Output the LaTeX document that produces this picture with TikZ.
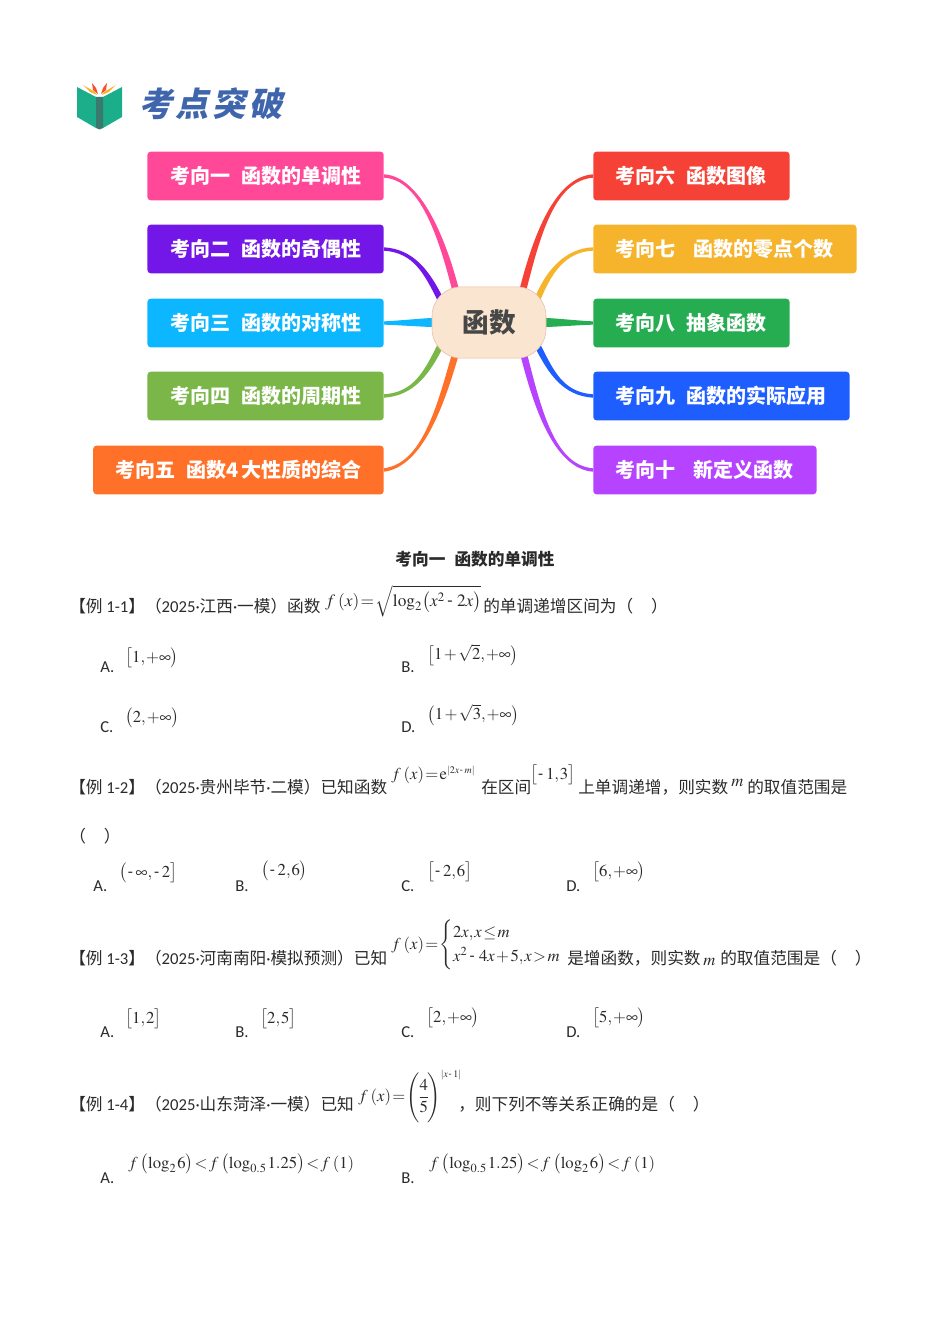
\documentclass[tikz,border=0pt]{standalone}
\usepackage{amsmath,amssymb}
\usepackage{mathptmx}
\usepackage[no-math]{fontspec}
\usepackage{tikz}
\usetikzlibrary{calc,backgrounds}
\setmainfont{Carlito}
\newfontfamily\cjk{Noto Sans CJK SC}
\newfontfamily\boxfont{Noto Sans CJK SC}[WordSpace=2.4]
\newfontfamily\titlefont{Noto Sans CJK SC}[FakeSlant=0.2,LetterSpace=10]
\newcommand{\zh}[1]{{\cjk #1}}
\newcommand{\hy}{\mathbin{\mkern1mu\text{-}\mkern3mu}}
\newcommand{\fx}[1]{f\mkern3mu(#1)}
\thinmuskip=1mu
\medmuskip=1.5mu
\thickmuskip=1.5mu
\newcommand{\limb}[6]{%
	\fill[#1] ($(#2)+(0,-1.7)$) .. controls +(#4) and +(#5) .. ($(hub.center)+(#3)+(#6)$)
		-- ($(hub.center)+(#3)-(#6)$) .. controls +(#5) and +(#4) .. ($(#2)+(0,1.7)$) -- cycle;}
\definecolor{kpink}{HTML}{FF4898}
\definecolor{kpurple}{HTML}{7316E8}
\definecolor{kcyan}{HTML}{0DB7FF}
\definecolor{kolive}{HTML}{7AB648}
\definecolor{korange}{HTML}{FF7028}
\definecolor{kred}{HTML}{F64236}
\definecolor{kgold}{HTML}{F6B32C}
\definecolor{kgreen}{HTML}{26AD51}
\definecolor{kblue}{HTML}{1E5EFF}
\definecolor{kviolet}{HTML}{B543FF}
\definecolor{bookgreen}{HTML}{1AAE8A}
\definecolor{bookspine}{HTML}{39796E}
\definecolor{titleblue}{HTML}{3F66AD}
\definecolor{hubfill}{HTML}{FAE6D0}
\definecolor{bodyink}{HTML}{2A2A2A}

\begin{document}
\begin{tikzpicture}[x=0.75pt,y=-0.75pt]
	\tikzstyle{topic}=[rectangle,rounded corners=2.5pt,text=white,inner xsep=17pt,minimum height=36.5pt,font=\boxfont\fontsize{15}{18}\selectfont\bfseries]
	\tikzstyle{lefttopic}=[topic,anchor=east]
	\tikzstyle{righttopic}=[topic,anchor=west]
	\tikzstyle{line}=[anchor=base west,inner sep=0pt,text=bodyink,font=\fontsize{12.5}{15}\selectfont]
	\tikzstyle{fml}=[anchor=west,inner sep=0pt,xshift=-1.5pt,text=bodyink,font=\fontsize{12.5}{15}\selectfont]

	\useasboundingbox (0,0) rectangle (950,1344);

	% book
	\fill[bookgreen] (77,87) -- (96,97) -- (96,128) -- (77,117) -- cycle;
	\fill[bookgreen] (122,87) -- (103,97) -- (103,128) -- (122,117) -- cycle;
	\fill[bookspine] (96,97) -- (103,97) -- (103,128) -- (99.5,129.5) -- (96,128) -- cycle;
	\fill[kgold] (83,85) -- (95,92) -- (97,95) -- (90,92) -- cycle;
	\fill[kgold] (116,85) -- (104,92) -- (102,95) -- (109,92) -- cycle;
	\fill[kred!75!orange] (92,83) -- (96,88) -- (98,94) -- (93,90) -- cycle;
	\fill[kred!75!orange] (107,83) -- (103,88) -- (101,94) -- (106,90) -- cycle;
	\node[inner sep=0pt,anchor=west,text=titleblue,font=\titlefont\fontsize{25}{30}\selectfont\bfseries] (title) at (139,104) {考点突破};

	\node[lefttopic,fill=kpink] (k1) at (384,176) {考向一 函数的单调性};
	\node[lefttopic,fill=kpurple] (k2) at (384,249) {考向二 函数的奇偶性};
	\node[lefttopic,fill=kcyan] (k3) at (384,323) {考向三 函数的对称性};
	\node[lefttopic,fill=kolive] (k4) at (384,396) {考向四 函数的周期性};
	\node[lefttopic,fill=korange] (k5) at (384,470) {考向五 函数4\kern1.5pt 大性质的综合};
	\node[righttopic,fill=kred] (k6) at (593,176) {考向六 函数图像};
	\node[righttopic,fill=kgold] (k7) at (593,249) {考向七~\hspace{5.2pt}函数的零点个数};
	\node[righttopic,fill=kgreen] (k8) at (593,323) {考向八 抽象函数};
	\node[righttopic,fill=kblue] (k9) at (593,396) {考向九 函数的实际应用};
	\node[righttopic,fill=kviolet] (k10) at (593,470) {考向十~\hspace{5.2pt}新定义函数};

	\node[draw=red!12!hubfill!92!black,fill=hubfill,rounded corners=22pt,minimum width=85.5pt,minimum height=53.5pt,inner sep=0pt,text=black!72,font=\cjk\fontsize{20}{24}\selectfont\bfseries] (hub) at (489,322.5) {函数};

	\begin{scope}[on background layer]
		\limb{kpink}{k1.east}{-33,-31}{36,2}{-14,-55}{3.5,0}
		\limb{kpurple}{k2.east}{-48,-22}{30,2}{-14,-28}{2.6,-1.6}
		\limb{kcyan}{k3.east}{-56,0}{8,0}{-8,0}{0,-4.5}
		\limb{kolive}{k4.east}{-48,22}{30,-2}{-14,28}{-2.6,-1.6}
		\limb{korange}{k5.east}{-34,33}{38,-5}{-15,52}{-3.5,0}
		\limb{kred}{k6.west}{34,-33}{-38,3}{14,-55}{-3.5,0}
		\limb{kgold}{k7.west}{48,-22}{-28,1}{11,-28}{-2.6,-1.6}
		\limb{kgreen}{k8.west}{56,0}{-8,0}{8,0}{0,-4.5}
		\limb{kblue}{k9.west}{48,22}{-30,-2}{14,28}{2.6,-1.6}
		\limb{kviolet}{k10.west}{35,33}{-38,-3}{14,55}{3.5,0}
	\end{scope}

	\node[line,anchor=base,font=\cjk\fontsize{12.5}{15}\selectfont\bfseries] (head) at (475,565) {考向一~函数的单调性};

	% example 1-1
	\node[line] (q1) at (69,612) {\zh{【例} 1-1\zh{】（}2025·\zh{江西}·\zh{一模）函数}};
	\node[fml,font=\fontsize{13}{16}\selectfont] (q1f) at (327,601) {$\fx{x}=\sqrt{\log_2\bigl(x^2\hy 2x\bigr)}$};
	\node[line] (q1t) at (483,612) {\zh{的单调递增区间为（~~）}};
	\node[line] (q1A) at (100,672) {A.};
	\node[fml] (q1Af) at (127,658) {$\bigl[1,+\infty\bigr)$};
	\node[line] (q1B) at (401,672) {B.};
	\node[fml] (q1Bf) at (429,655) {$\bigl[1+\sqrt{2},+\infty\bigr)$};
	\node[line] (q1C) at (100,732) {C.};
	\node[fml] (q1Cf) at (127,718) {$\bigl(2,+\infty\bigr)$};
	\node[line] (q1D) at (401,732) {D.};
	\node[fml] (q1Df) at (429,715) {$\bigl(1+\sqrt{3},+\infty\bigr)$};

	% example 1-2
	\node[line] (q2) at (69,793) {\zh{【例} 1-2\zh{】（}2025·\zh{贵州毕节}·\zh{二模）已知函数}};
	\node[fml] (q2f) at (393,775) {$\fx{x}=\mathrm{e}^{\scriptscriptstyle |2x\hy m|}$};
	\node[line] (q2t) at (481,793) {\zh{在区间}};
	\node[fml] (q2g) at (532,775) {$\bigl[\hy 1,3\bigr]$};
	\node[line] (q2u) at (578,793) {\zh{上单调递增，则实数}};
	\node[fml] (q2m) at (733,783) {$m$};
	\node[line] (q2v) at (747,793) {\zh{的取值范围是}};
	\node[line] (q2w) at (69,842) {\zh{（~~）}};
	\node[line] (q2A) at (93,891) {A.};
	\node[fml] (q2Af) at (121,873) {$\bigl(\hy\infty,\hy 2\bigr]$};
	\node[line] (q2B) at (235,891) {B.};
	\node[fml] (q2Bf) at (263,871) {$\bigl(\hy 2,6\bigr)$};
	\node[line] (q2C) at (401,891) {C.};
	\node[fml] (q2Cf) at (429,872) {$\bigl[\hy 2,6\bigr]$};
	\node[line] (q2D) at (566,891) {D.};
	\node[fml] (q2Df) at (594,872) {$\bigl[6,+\infty\bigr)$};

	% example 1-3
	\node[line] (q3) at (69,964) {\zh{【例} 1-3\zh{】（}2025·\zh{河南南阳}·\zh{模拟预测）已知}};
	\node[fml] (q3f) at (393,945) {$\fx{x}=\begin{cases}2x,x\le m\\ x^2\hy 4x+5,x>m\end{cases}$};
	\node[line] (q3t) at (567,964) {\zh{是增函数，则实数}};
	\node[fml] (q3m) at (705,962) {$m$};
	\node[line] (q3u) at (720,964) {\zh{的取值范围是（~~）}};
	\node[line] (q3A) at (100,1037) {A.};
	\node[fml] (q3Af) at (127,1019) {$\bigl[1,2\bigr]$};
	\node[line] (q3B) at (235,1037) {B.};
	\node[fml] (q3Bf) at (262,1019) {$\bigl[2,5\bigr]$};
	\node[line] (q3C) at (401,1037) {C.};
	\node[fml] (q3Cf) at (428,1018) {$\bigl[2,+\infty\bigr)$};
	\node[line] (q3D) at (566,1037) {D.};
	\node[fml] (q3Df) at (594,1018) {$\bigl[5,+\infty\bigr)$};

	% example 1-4
	\node[line] (q4) at (69,1110) {\zh{【例} 1-4\zh{】（}2025·\zh{山东菏泽}·\zh{一模）已知}};
	\node[fml] (q4f) at (360,1096) {$\fx{x}=\Biggl(\mkern-2mu\dfrac{4}{5}\mkern-2mu\Biggr)^{\scriptscriptstyle |x\hy 1|}$};
	\node[line] (q4t) at (458,1110) {\zh{，则下列不等关系正确的是（~~）}};
	\node[line] (q4A) at (100,1183) {A.};
	\node[fml] (q4Af) at (130,1164) {$f\mkern3mu\bigl(\log_2 6\bigr)<f\mkern3mu\bigl(\log_{0.5}1.25\bigr)<\fx{1}$};
	\node[line] (q4B) at (401,1183) {B.};
	\node[fml] (q4Bf) at (431,1164) {$f\mkern3mu\bigl(\log_{0.5}1.25\bigr)<f\mkern3mu\bigl(\log_2 6\bigr)<\fx{1}$};
\end{tikzpicture}
\end{document}
